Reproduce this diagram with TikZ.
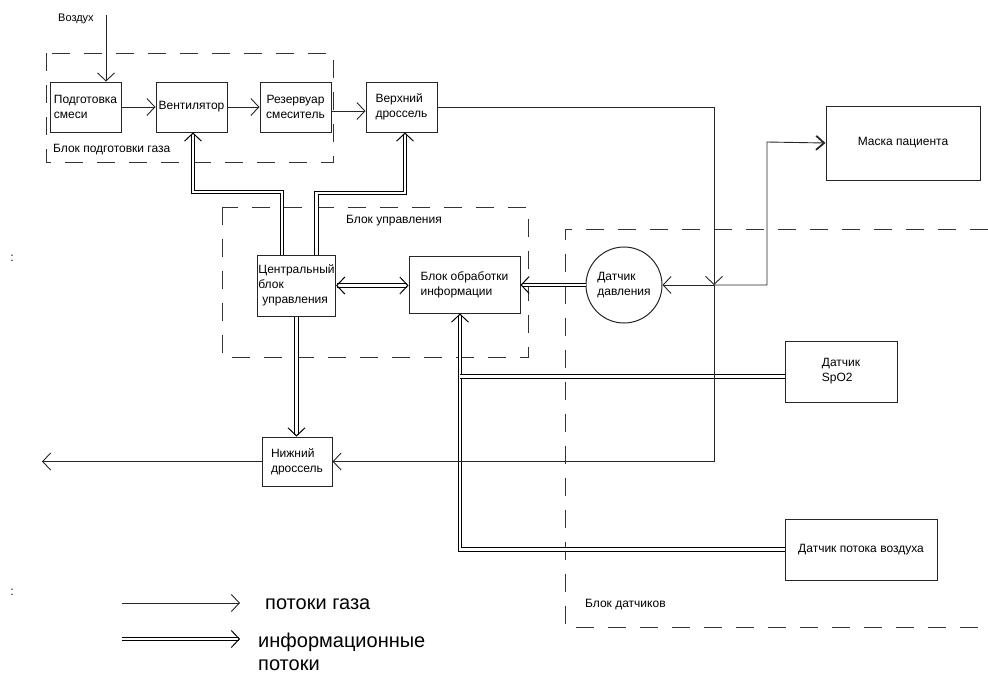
\documentclass[tikz,border=0pt]{standalone}
\usepackage{fontspec}
\setmainfont{Liberation Sans}
\usetikzlibrary{arrows.meta}

\begin{document}
\begin{tikzpicture}[x=1pt,y=-1pt,>={Straight Barb[length=8pt,width=17pt]},font=\fontsize{12}{15}\selectfont,
  blk/.style={rectangle,draw=black!85,text=black,line width=1pt,inner sep=1pt,align=left},
  grp/.style={draw=black!80,line width=1pt,dash pattern=on 18pt off 14pt},
  gas/.style={draw=black!85,line width=0.9pt},
  info/.style={draw=black,line width=1pt,double,double distance=2.2pt},
  lbl/.style={inner sep=0pt,anchor=west,align=left},
  big/.style={font=\fontsize{20}{23}\selectfont}]
\useasboundingbox (0,0) rectangle (988,673);
% dashed groups
\draw[grp] (46,53) rectangle (333,162);
\draw[grp] (222,207) rectangle (528,357);
\draw[grp] (988,229) -- (565,229) -- (565,627) -- (988,627);
\node[lbl] (grpgas) at (53,150) {Блок подготовки газа};
\node[lbl] (grpupr) at (346,221) {Блок управления};
\node[lbl] (grpdat) at (585,605) {Блок датчиков};
% blocks
\node[lbl,font=\fontsize{11}{13}\selectfont] (vozd) at (58,19) {Воздух};
\node[blk,minimum width=71pt,minimum height=50pt] (prep) at (85.5,107) {Подготовка\\смеси};
\node[blk,minimum width=71pt,minimum height=50pt] (vent) at (191.5,107) {Вентилятор};
\node[blk,minimum width=71pt,minimum height=50pt,align=center] (res) at (295.5,107) {Резервуар\\смеситель};
\node[blk,minimum width=71pt,minimum height=50pt] (uthr) at (401.5,107) {Верхний\\дроссель};
\node[blk,minimum width=154pt,minimum height=74pt] (mask) at (903,143) {Маска пациента};
\node[blk,minimum width=77pt,minimum height=61pt] (cbu) at (296.5,285.5) {Центральный\\блок\\\hspace{4pt}управления};
\node[blk,minimum width=111pt,minimum height=57pt] (boi) at (464.5,284.5) {Блок обработки\\информации};
\node[blk,circle,minimum size=76pt] (dd) at (624,285) {Датчик\\давления};
\node[blk,minimum width=112pt,minimum height=61pt] (spo) at (841,371.5) {Датчик\\SpO2};
\node[blk,minimum width=152pt,minimum height=61pt] (dpv) at (861,549.5) {Датчик потока воздуха};
\node[blk,minimum width=70pt,minimum height=49pt] (lthr) at (297,461.5) {Нижний\\дроссель};
\node (col1) at (12,258) {:};
\node (col2) at (12,592) {:};
% information flows
\coordinate (c1) at (193,192);
\coordinate (c2) at (405,193);
\coordinate (ib) at ([xshift=-4.5pt]boi.south);
\draw[info,<->] (cbu.east) -- (cbu.east -| boi.west);
\draw[info,->] (dd.west) -- (dd.west -| boi.east);
\draw[info,->] ([xshift=-14.5pt]cbu.north) |- (c1) -- (c1 |- vent.south);
\draw[info,->] ([xshift=20pt]cbu.north) |- (c2) -- (c2 |- uthr.south);
\draw[info,->] (cbu.south) -- (cbu.south |- lthr.north);
\draw[info,->] (dpv.west) -| (ib);
\draw[info] ([yshift=-5pt]spo.west) -- ([yshift=-5pt]spo.west -| ib);
% gas flows
\coordinate (airin) at (106,15);
\coordinate (jn) at (714,285);
\coordinate (mk) at (767,142);
\coordinate (vyh) at (42,461.5);
\draw[gas,->] (airin) -- (airin |- prep.north);
\draw[gas,->] (prep) -- (vent);
\draw[gas,->] (vent) -- (res);
\draw[gas,->] ([yshift=-4pt]res.east) -- ([yshift=-4pt]uthr.west);
\draw[gas,->] (uthr.east) -| (jn);
\draw[gas,->] (jn) -- (dd.east);
\draw[gas,-{Straight Barb[length=8pt,width=14pt,line width=1.8pt]}] (jn) -| (mk) -- (mask.west);
\draw[gas,->] (jn) |- (lthr.east);
\draw[gas,->] (lthr.west) -- (vyh);
% legend
\coordinate (lg1a) at (122,603);
\coordinate (lg1b) at (240,603);
\coordinate (lg2a) at (122,639);
\coordinate (lg2b) at (240,639);
\draw[gas,->] (lg1a) -- (lg1b);
\draw[info,->] (lg2a) -- (lg2b);
\node[lbl,big] (lgt1) at (265,604) {потоки газа};
\node[lbl,big] (lgt2) at (258,651.5) {информационные\\потоки};
\end{tikzpicture}
\end{document}
